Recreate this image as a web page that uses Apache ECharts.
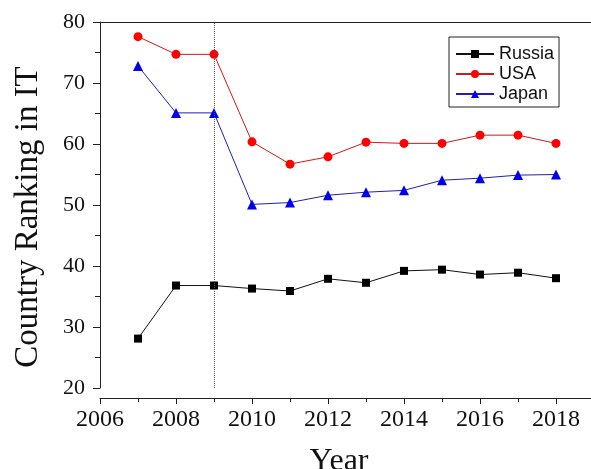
<!DOCTYPE html>
<html>
<head>
<meta charset="utf-8">
<script src="https://cdn.jsdelivr.net/npm/echarts@6/dist/echarts.min.js"></script>
<style>html,body{margin:0;padding:0;background:#fff}#c{width:591px;height:469px}</style>
</head>
<body>
<div id="c"></div>
<script>
const years = [2007, 2008, 2009, 2010, 2011, 2012, 2013, 2014, 2015, 2016, 2017, 2018];
const russia = [28.1, 36.8, 36.8, 36.3, 35.9, 37.9, 37.25, 39.2, 39.4, 38.6, 38.9, 38.0];
const usa = [77.6, 74.7, 74.7, 60.35, 56.7, 57.9, 60.3, 60.1, 60.1, 61.45, 61.45, 60.1];
const japan = [72.8, 65.1, 65.1, 50.1, 50.4, 51.6, 52.1, 52.4, 54.06, 54.4, 54.9, 55.0];
const seriesNames = ['Russia', 'USA', 'Japan'];
const markerYear = 2009;

const pair = arr => years.map((y, i) => [y, arr[i]]);
const serif = 'Liberation Serif';
const chart = echarts.init(document.getElementById('c'), null, {renderer: 'canvas'});
chart.setOption({
  animation: false,
  backgroundColor: '#fff',
  grid: {left: 100, right: -3, top: 22, bottom: 81, containLabel: false, outerBoundsMode: 'none'},
  legend: {
    orient: 'vertical', left: 449, top: 37,
    data: seriesNames,
    itemWidth: 38, itemHeight: 10, itemGap: 0,
    padding: [7, 5, 3, 6],
    borderColor: '#222', borderWidth: 1,
    textStyle: {fontFamily: 'Liberation Sans', fontSize: 18, color: '#111', lineHeight: 20}
  },
  xAxis: [{
    type: 'value', min: 2006, max: 2019, interval: 2, offset: 10,
    name: 'Year', nameLocation: 'middle', nameGap: 48,
    nameTextStyle: {fontFamily: serif, fontSize: 32, color: '#111', padding: [0, 16, 0, 0]},
    axisLine: {show: true, lineStyle: {color: '#222', width: 1}},
    axisTick: {show: true, length: 6, inside: false, lineStyle: {color: '#222'}},
    minorTick: {show: true, splitNumber: 2, length: 4, lineStyle: {color: '#222'}},
    axisLabel: {fontFamily: serif, fontSize: 24, color: '#111', margin: 10,
      formatter: v => (v % 2 === 0 ? String(v) : '')},
    splitLine: {show: false}
  }, {
    type: 'value', min: 2006, max: 2019, position: 'top',
    axisLine: {show: true, lineStyle: {color: '#222', width: 1}},
    axisTick: {show: false}, axisLabel: {show: false}, splitLine: {show: false}
  }],
  yAxis: {
    type: 'value', min: 20, max: 80, interval: 10,
    name: 'Country Ranking in IT', nameLocation: 'middle', nameGap: 55,
    nameTextStyle: {fontFamily: serif, fontSize: 33, color: '#111', padding: [0, 24, 0, 0]},
    axisLine: {show: true, lineStyle: {color: '#222', width: 1}},
    axisTick: {show: true, length: 7, lineStyle: {color: '#222'}},
    minorTick: {show: true, splitNumber: 2, length: 5, lineStyle: {color: '#222'}},
    axisLabel: {fontFamily: serif, fontSize: 22, color: '#111', margin: 15},
    splitLine: {show: false}
  },
  series: [{
    name: 'Russia', type: 'line', data: pair(russia),
    symbol: 'rect', symbolSize: 8,
    itemStyle: {color: '#000'}, lineStyle: {color: '#111', width: 1},
    markLine: {
      silent: true, symbol: 'none', label: {show: false},
      lineStyle: {color: '#555', type: 'dotted', width: 1},
      data: [{xAxis: markerYear}]
    }
  }, {
    name: 'USA', type: 'line', data: pair(usa),
    symbol: 'circle', symbolSize: 9,
    itemStyle: {color: '#ff0000'}, lineStyle: {color: '#d41818', width: 1}
  }, {
    name: 'Japan', type: 'line', data: pair(japan),
    symbol: 'triangle', symbolSize: 10,
    itemStyle: {color: '#0000ee'}, lineStyle: {color: '#2020b0', width: 1}
  }]
});
</script>
</body>
</html>
